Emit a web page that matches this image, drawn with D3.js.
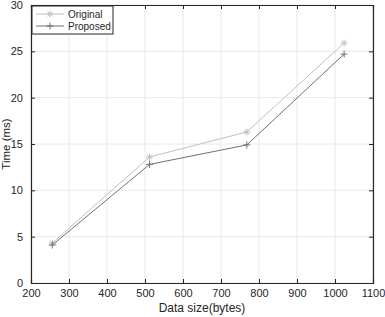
<!DOCTYPE html>
<html><head><meta charset="utf-8">
<script src="https://d3js.org/d3.v7.min.js"></script>
<style>body{margin:0;background:#fff}svg{display:block}text{font-family:"Liberation Sans",Arial,sans-serif}</style>
</head><body><svg id="c" width="385" height="317"></svg>
<script>
const sizes = [256, 512, 768, 1024];
const original = [4.3, 13.6, 16.3, 25.9];
const proposed = [4.1, 12.8, 14.9, 24.7];
const xTicks = [200,300,400,500,600,700,800,900,1000,1100];
const yTicks = [0,5,10,15,20,25,30];
const seriesNames = ["Original","Proposed"];

const svg = d3.select("#c");
const L=31,R=373,T=5,B=283;
const x = d3.scaleLinear().domain([200,1100]).range([L,R]);
const y = d3.scaleLinear().domain([0,30]).range([B,T]);

svg.append("g").selectAll("line").data(xTicks).join("line")
 .attr("x1",d=>x(d)).attr("x2",d=>x(d)).attr("y1",T).attr("y2",B)
 .attr("stroke","#e8e8e8").attr("stroke-width",1);
svg.append("g").selectAll("line").data(yTicks).join("line")
 .attr("y1",d=>y(d)).attr("y2",d=>y(d)).attr("x1",L).attr("x2",R)
 .attr("stroke","#e8e8e8").attr("stroke-width",1);

const fmt = d3.format("d");
const ax = d3.axisBottom(x).tickValues(xTicks).tickSize(-4).tickPadding(6).tickFormat(fmt);
const ay = d3.axisLeft(y).tickValues(yTicks).tickSize(-4).tickPadding(8).tickFormat(fmt);
svg.append("g").attr("transform",`translate(0,${B})`).call(ax);
svg.append("g").attr("transform",`translate(${L},0)`).call(ay);
svg.append("g").attr("transform",`translate(0,${T})`).call(d3.axisTop(x).tickValues(xTicks).tickSize(-4).tickFormat(""));
svg.append("g").attr("transform",`translate(${R},0)`).call(d3.axisRight(y).tickValues(yTicks).tickSize(-4).tickFormat(""));
svg.selectAll(".domain").attr("stroke","#262626").attr("stroke-width",1.2);
svg.selectAll(".tick line").attr("stroke","#262626");
svg.selectAll(".tick text").attr("font-size",11).attr("fill","#262626");
svg.selectAll("g").attr("font-family",null);

const data = [
  {name:seriesNames[0], vals:original, color:"#c0c0c0", marker:"star"},
  {name:seriesNames[1], vals:proposed, color:"#707070", marker:"plus"}
];
const line = d3.line().x(d=>x(d[0])).y(d=>y(d[1]));
function drawMarker(g, cx, cy, type, color){
  const s=3.5;
  g.append("line").attr("x1",cx-s).attr("x2",cx+s).attr("y1",cy).attr("y2",cy).attr("stroke",color);
  g.append("line").attr("x1",cx).attr("x2",cx).attr("y1",cy-s).attr("y2",cy+s).attr("stroke",color);
  if(type==="star"){
    const d=s*0.7;
    g.append("line").attr("x1",cx-d).attr("x2",cx+d).attr("y1",cy-d).attr("y2",cy+d).attr("stroke",color);
    g.append("line").attr("x1",cx-d).attr("x2",cx+d).attr("y1",cy+d).attr("y2",cy-d).attr("stroke",color);
  }
}
data.forEach(s=>{
  const pts = sizes.map((v,i)=>[v,s.vals[i]]);
  svg.append("path").datum(pts).attr("d",line).attr("fill","none").attr("stroke",s.color).attr("stroke-width",1);
  const g=svg.append("g");
  pts.forEach(p=>drawMarker(g,x(p[0]),y(p[1]),s.marker,s.color));
});

const lg = svg.append("g");
lg.append("rect").attr("x",L+1).attr("y",T+1).attr("width",81).attr("height",28).attr("fill","#fff").attr("stroke","#262626").attr("stroke-width",1);
data.forEach((s,i)=>{
  const yy=T+9+i*12;
  lg.append("line").attr("x1",L+5).attr("x2",L+33).attr("y1",yy).attr("y2",yy).attr("stroke",s.color);
  drawMarker(lg,L+19,yy,s.marker,s.color);
  lg.append("text").attr("x",L+37).attr("y",yy+4).attr("font-size",10).attr("fill","#262626").text(s.name);
});

svg.append("text").attr("x",(L+R)/2).attr("y",312).attr("text-anchor","middle").attr("font-size",12).attr("fill","#262626").text("Data size(bytes)");
svg.append("text").attr("transform",`translate(10,${(T+B)/2}) rotate(-90)`).attr("text-anchor","middle").attr("font-size",11.5).attr("fill","#262626").text("Time (ms)");
</script></body></html>
